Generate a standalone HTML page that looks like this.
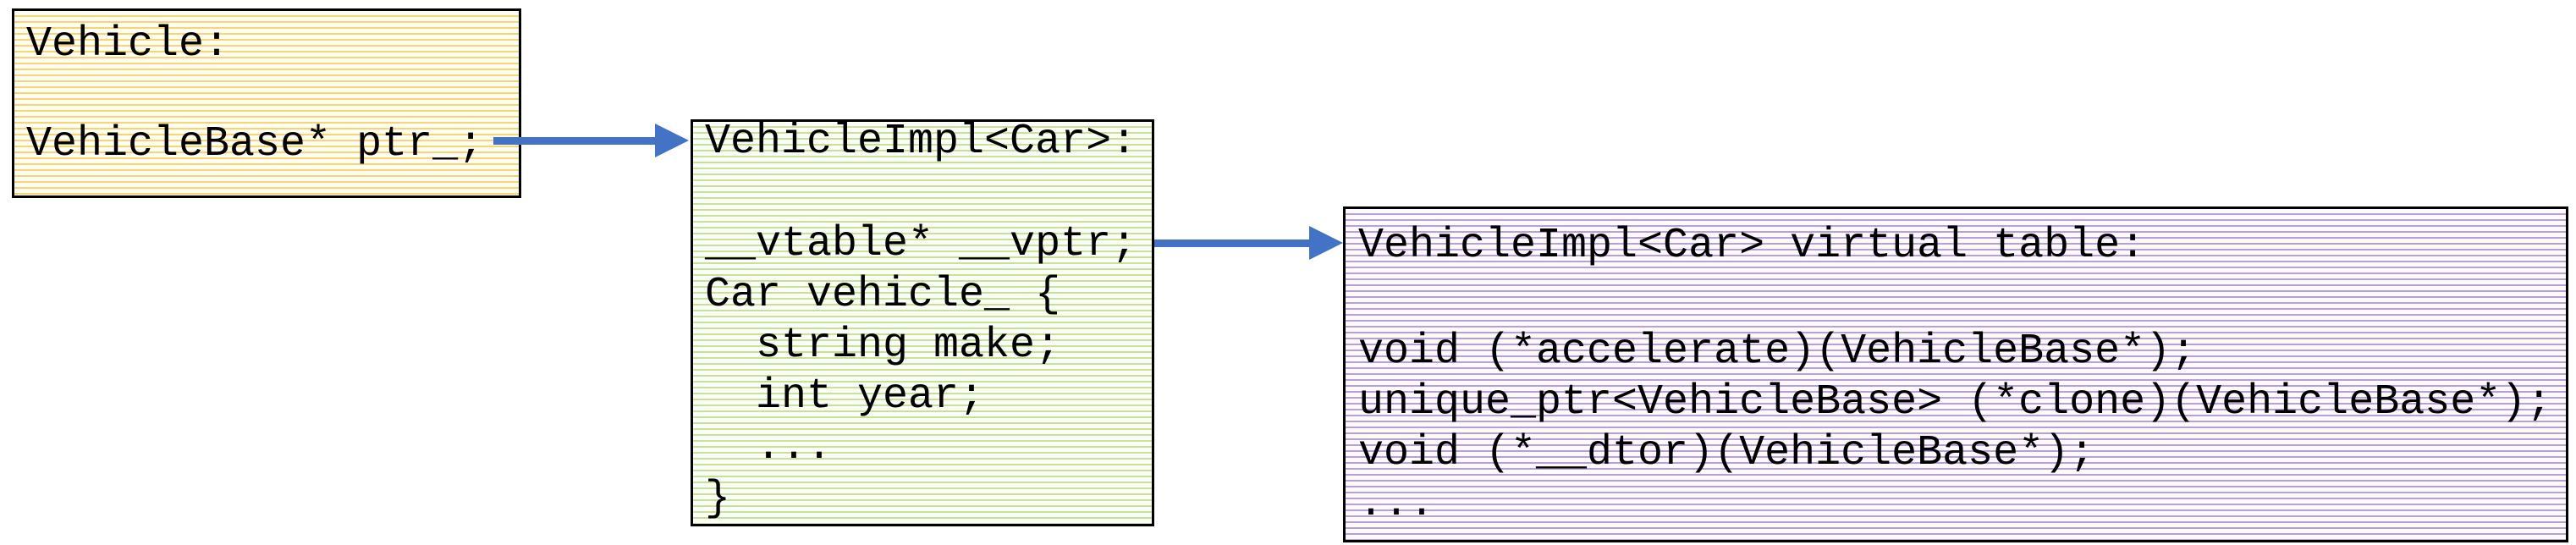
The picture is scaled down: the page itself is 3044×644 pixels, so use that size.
<!DOCTYPE html>
<html><head><meta charset="utf-8"><style>
html,body{margin:0;padding:0;background:#fff;}
body{width:3044px;height:644px;position:relative;overflow:hidden;}
.box{position:absolute;box-sizing:border-box;border:3px solid #000;}
.t{position:absolute;font-family:"Liberation Mono","Courier New",monospace;font-size:50px;color:#000;white-space:pre;line-height:1;}
</style></head><body>
<div class="box" style="left:14px;top:10px;width:602px;height:224px;background:repeating-linear-gradient(180deg,#fffdf5 0 5px,#f6d76e 5px 7px);"></div>
<div class="box" style="left:816px;top:141px;width:548px;height:481px;background:repeating-linear-gradient(180deg,#fbfdf7 0 5px,#c6e29a 5px 7px);"></div>
<div class="box" style="left:1587px;top:244px;width:1448px;height:397px;background:repeating-linear-gradient(180deg,#fcfaff 0 5px,#b9a1d6 5px 7px);"></div>

<div class="t" style="left:31px;top:28px;">Vehicle:</div>
<div class="t" style="left:31px;top:146px;">VehicleBase* ptr_;</div>

<div class="t" style="left:833px;top:143px;">VehicleImpl&lt;Car&gt;:</div>
<div class="t" style="left:833px;top:264px;">__vtable* __vptr;</div>
<div class="t" style="left:833px;top:324px;">Car vehicle_ {</div>
<div class="t" style="left:833px;top:384px;">  string make;</div>
<div class="t" style="left:833px;top:444px;">  int year;</div>
<div class="t" style="left:833px;top:504px;">  ...</div>
<div class="t" style="left:833px;top:565px;">}</div>

<div class="t" style="left:1605px;top:266px;">VehicleImpl&lt;Car&gt; virtual table:</div>
<div class="t" style="left:1605px;top:391px;">void (*accelerate)(VehicleBase*);</div>
<div class="t" style="left:1605px;top:451px;">unique_ptr&lt;VehicleBase&gt; (*clone)(VehicleBase*);</div>
<div class="t" style="left:1605px;top:511px;">void (*__dtor)(VehicleBase*);</div>
<div class="t" style="left:1605px;top:571px;">...</div>

<svg width="3044" height="644" style="position:absolute;left:0;top:0">
<rect x="583" y="162" width="193" height="9" fill="#4472c4"/>
<polygon points="774,146 814,166 774,186" fill="#4472c4"/>
<rect x="1364" y="283" width="186" height="9" fill="#4472c4"/>
<polygon points="1547,267 1587,287 1547,307" fill="#4472c4"/>
</svg>
</body></html>
